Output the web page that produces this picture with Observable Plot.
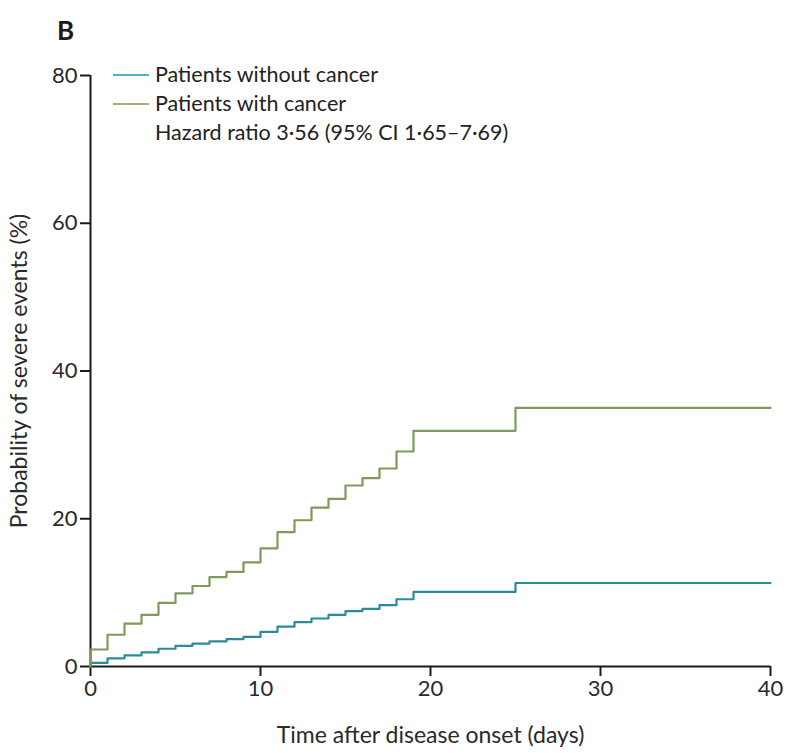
<!DOCTYPE html>
<html><head><meta charset="utf-8">
<script src="https://cdn.jsdelivr.net/npm/d3@7"></script>
<script src="https://cdn.jsdelivr.net/npm/@observablehq/plot@0.6"></script>
<style>
body{margin:0;background:#fff;font-family:Lato,"Open Sans",sans-serif;}
#wrap{position:relative;width:799px;height:753px;}
#panel{position:absolute;left:57px;top:14px;font-size:26px;font-weight:bold;color:#1a1a1a;}
#legend{position:absolute;left:113px;top:60px;font-size:21.5px;color:#222;line-height:29px;}
#legend .row{display:flex;align-items:center;}
#legend .sw{display:inline-block;width:36px;height:2px;margin-right:6px;}
#legend .pad{margin-left:42px;}
</style></head>
<body><div id="wrap"><div id="panel">B</div><div id="chart"></div>
<div id="legend"></div></div>
<script>
const days = [0, 0, 1, 2, 3, 4, 5, 6, 7, 8, 9, 10, 11, 12, 13, 14, 15, 16, 17, 18, 19, 25, 40];
const withoutCancer = [0, 0.5, 1.1, 1.5, 1.9, 2.4, 2.8, 3.1, 3.4, 3.7, 4.0, 4.7, 5.4, 6.0, 6.5, 7.0, 7.5, 7.8, 8.3, 9.1, 10.1, 11.3, 11.3];
const withCancer = [0, 2.3, 4.3, 5.8, 7.0, 8.6, 9.9, 10.9, 12.1, 12.8, 14.1, 16.0, 18.2, 19.8, 21.5, 22.7, 24.5, 25.5, 26.8, 29.1, 31.9, 35.0, 35.0];
const seriesNames = ["Patients without cancer", "Patients with cancer"];
const seriesColors = ["#2a8c99", "#7f9a5a"];
const legendColors = ["#4fb3c0", "#a3b27a"];
const note = "Hazard ratio 3·56 (95% CI 1·65–7·69)";
const xTicks = [0, 10, 20, 30, 40];
const yTicks = [0, 20, 40, 60, 80];

const rows = [];
days.forEach((d, i) => {
  rows.push({day: d, value: withoutCancer[i], series: seriesNames[0]});
  rows.push({day: d, value: withCancer[i], series: seriesNames[1]});
});

const chart = Plot.plot({
  width: 799, height: 753,
  marginLeft: 90, marginRight: 29, marginTop: 75, marginBottom: 87,
  style: {fontFamily: "Lato, 'Open Sans', sans-serif", fontSize: "22px", color: "#2a2a2a", background: "#fff"},
  x: {domain: [0, 40]},
  y: {domain: [0, 80]},
  color: {domain: seriesNames, range: seriesColors},
  marks: [
    Plot.axisX({ticks: xTicks, tickSize: 10, tickPadding: 4, tickFormat: d => String(d), fontSize: 22,
      label: null}),
    Plot.axisY({ticks: yTicks, tickSize: 10, tickPadding: 3, tickFormat: d => String(d), fontSize: 22,
      label: null}),
    Plot.axisX({ticks: [], tickSize: 0, fontSize: 23,
      label: "Time after disease onset (days)", labelAnchor: "center", labelArrow: "none", labelOffset: 76}),
    Plot.axisY({ticks: [], tickSize: 0, fontSize: 23,
      label: "Probability of severe events (%)", labelAnchor: "center", labelArrow: "none", labelOffset: 80}),
    Plot.ruleY([0], {stroke: "#1a1a1a", strokeWidth: 2}),
    Plot.ruleX([0], {stroke: "#1a1a1a", strokeWidth: 2}),
    Plot.line(rows, {x: "day", y: "value", z: "series", stroke: "series", curve: "step-after", strokeWidth: 2.2})
  ]
});
document.getElementById("chart").appendChild(chart);
chart.querySelectorAll('[aria-label="x-axis tick"] path, [aria-label="y-axis tick"] path').forEach(p => { p.setAttribute("stroke-width", "2"); p.setAttribute("stroke", "#1a1a1a"); });

const lg = document.getElementById("legend");
seriesNames.forEach((n, i) => {
  const r = document.createElement("div"); r.className = "row";
  r.innerHTML = `<span class="sw" style="background:${legendColors[i]}"></span><span>${n}</span>`;
  lg.appendChild(r);
});
const nr = document.createElement("div"); nr.className = "row pad"; nr.textContent = note; lg.appendChild(nr);
</script></body></html>
